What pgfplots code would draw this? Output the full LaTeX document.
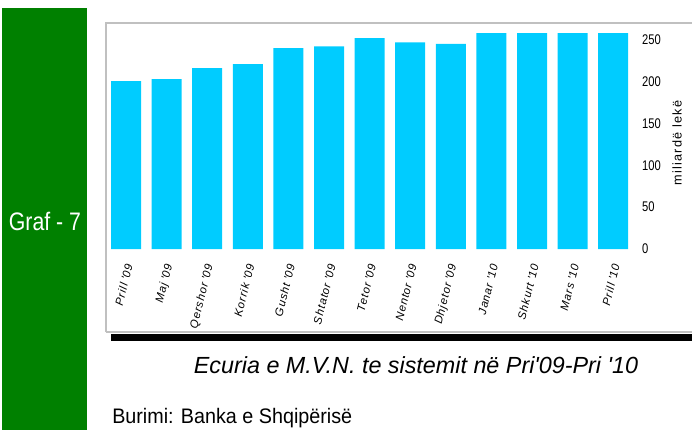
\documentclass[border=0pt]{standalone}
\usepackage{pgfplots}
\pgfplotsset{compat=1.18}
\usepackage{fontspec}
\setmainfont{Liberation Sans}
\newfontfamily\tickfont{Liberation Sans}[FakeStretch=0.8]
\newfontfamily\narrowfont{Liberation Sans}[FakeStretch=0.84]
\newfontfamily\srcfont{Liberation Sans}[FakeStretch=0.94]
\newfontfamily\spacedfont{Liberation Sans}[LetterSpace=8]
\newfontfamily\labfont{Liberation Sans}[LetterSpace=10]
\definecolor{barcyan}{RGB}{0,204,255}
\definecolor{grafgreen}{RGB}{0,128,0}
\definecolor{boxgray}{RGB}{192,192,192}
\newcommand\q{\textquotesingle}
\begin{document}
\begin{tikzpicture}[x=0.75pt,y=0.75pt]
\path[use as bounding box] (0,0) rectangle (692,430);
\fill[grafgreen] (2,0) rectangle (87,422);
\node[text=white, font=\narrowfont\fontsize{19pt}{20pt}\selectfont, inner sep=0pt] at (45,209) {Graf - 7};
\draw[boxgray, line width=2pt] (106,98) -- (106,407) -- (720,407);
\draw[boxgray, line width=2pt] (106,98) -- (720,98);
\fill[black] (111,89) rectangle (692,96);
\begin{axis}[
  at={(79.275pt,135.75pt)}, anchor=south west,
  scale only axis, width=395.85pt, height=169.5pt,
  xmin=-0.5, xmax=12.5, ymin=0, ymax=270,
  axis line style={draw=none},
  ybar, bar width=22.5pt,
  xtick={0,...,12},
  xticklabels={Prill \q09, Maj \q09, Qershor \q09, Korrik \q09, Gusht \q09, Shtator \q09, Tetor \q09, Nentor \q09, Dhjetor \q09, Janar \q10, Shkurt \q10, Mars \q10, Prill \q10},
  ytick={0,50,...,250},
  major tick length=0pt,
  ytick pos=right, yticklabel pos=right,
  /pgf/number format/assume math mode=true,
  yticklabel style={anchor=west, font=\tickfont\fontsize{10.5pt}{12pt}\selectfont, xshift=3pt},
  xticklabel style={xshift=3pt, yshift=-8pt, rotate=76, anchor=east, font=\spacedfont\itshape\fontsize{8.5pt}{10pt}\selectfont},
  clip=false,
]
\addplot[fill=barcyan, draw=none] coordinates {
(0,200.6) (1,203) (2,216) (3,221) (4,240) (5,242) (6,252) (7,247) (8,245) (9,258) (10,258) (11,258) (12,258)
};
\end{axis}
\node[font=\labfont\fontsize{9.5pt}{10pt}\selectfont, rotate=90, inner sep=0pt] at (677,287) {miliardë lekë};
\node[font=\itshape\fontsize{17.5pt}{20pt}\selectfont, anchor=base] at (416,57) {Ecuria e M.V.N. te sistemit në Pri\q09-Pri \q10};
\node[font=\srcfont\fontsize{15.75pt}{18pt}\selectfont, anchor=base west, inner sep=0pt] at (112,7) {Burimi: Banka e Shqipërisë};
\end{tikzpicture}
\end{document}
